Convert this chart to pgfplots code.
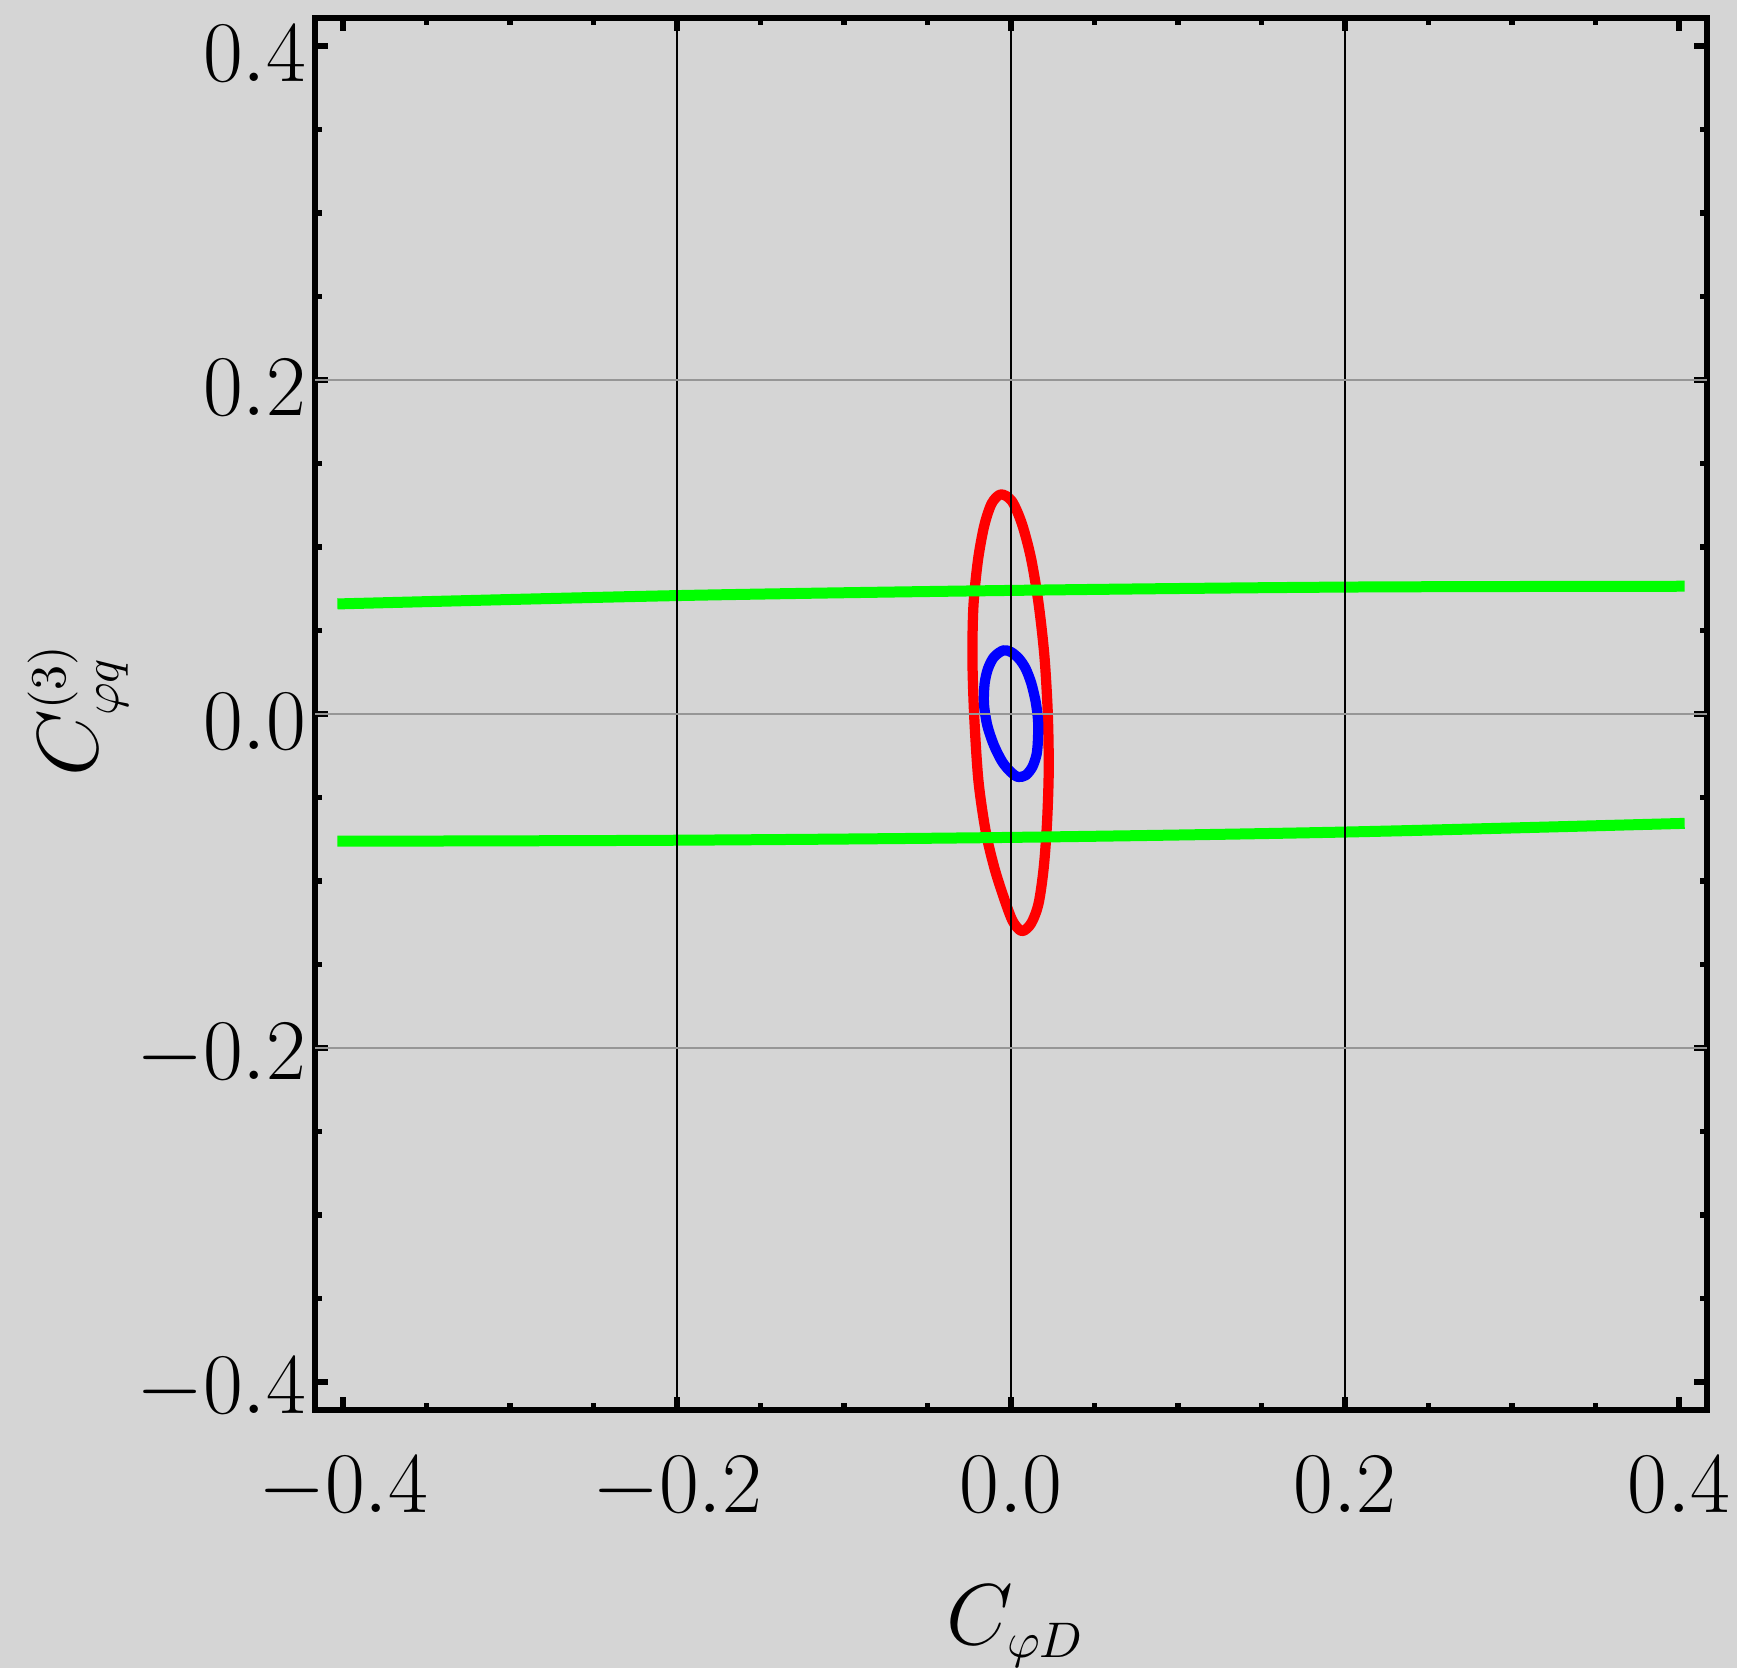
\documentclass[border=0pt]{standalone}
\usepackage{pgfplots}
\pgfplotsset{compat=1.18}
\DeclareMathSizes{17.1}{17.1}{10.3}{8}
\definecolor{bgc}{RGB}{213,213,213}
\definecolor{gridgray}{RGB}{150,150,150}
\begin{document}
\begin{tikzpicture}
\fill[bgc] (0,0) rectangle (347.4pt,333.6pt);
\path[use as bounding box] (0,0) rectangle (347.4pt,333.6pt);
\begin{axis}[
  at={(63pt,51.6pt)}, anchor=south west,
  width=278.4pt, height=278.4pt, scale only axis,
  xmin=-0.4168, xmax=0.4168, ymin=-0.4168, ymax=0.4168,
  axis on top,
  axis line style={line width=1.2pt, black},
  tick style={line width=1.1pt, black},
  major tick length=2.6pt, minor tick length=1.4pt,
  xtick={-0.4,-0.2,0,0.2,0.4},
  xticklabels={$-0.4$,$-0.2$,$0.0$,$0.2$,$0.4$},
  ytick={-0.4,-0.2,0,0.2,0.4},
  yticklabels={$-0.4$,$-0.2$,$0.0$,$0.2$,$0.4$},
  minor x tick num=3, minor y tick num=3,
  ticklabel style={font=\fontsize{17.1}{20}\selectfont, inner sep=2pt},
  xticklabel style={yshift=-7.2pt},
  yticklabel style={xshift=0.4pt, yshift=-1.5pt},
  extra x ticks={-0.2,0,0.2}, extra x tick labels={,,},
  extra x tick style={grid=major, major grid style={black, line width=0.25pt}, major tick length=0pt},
  extra y ticks={-0.2,0,0.2}, extra y tick labels={,,},
  extra y tick style={grid=major, major grid style={gridgray, line width=0.45pt}, major tick length=0pt},
  label style={font=\fontsize{17.1}{20}\selectfont},
  xlabel={$C_{\varphi D}$},
  xlabel style={at={(axis description cs:0.5036,-0.1688)}, anchor=base},
  ylabel={$C^{(3)}_{\varphi q}$},
  ylabel style={at={(axis description cs:-0.1566,0.503)}, anchor=base, rotate=0},
]
% red contour
\addplot[red, line width=2.05pt, smooth cycle, line join=round] coordinates {
 (-0.0060,0.1315) (0.0005,0.1275) (0.0065,0.1140) (0.0120,0.0932) (0.0165,0.0662)
 (0.0200,0.0348) (0.0220,0.0009) (0.0226,-0.0330) (0.0216,-0.0646) (0.0196,-0.0920)
 (0.0165,-0.1135) (0.0120,-0.1255) (0.0065,-0.1300) (0.0010,-0.1240) (-0.0045,-0.1094)
 (-0.0100,-0.0920) (-0.0152,-0.0700) (-0.0195,-0.0400) (-0.0220,-0.0020) (-0.0231,0.0330)
 (-0.0225,0.0646) (-0.0198,0.0920) (-0.0160,0.1129) (-0.0115,0.1262)};
% green bands
\addplot[color={rgb,255:red,0;green,255;blue,0}, line width=2.2pt, smooth] coordinates {
 (-0.4034,0.0659) (-0.2,0.0709) (0,0.0740) (0.2,0.0760) (0.4034,0.0765)};
\addplot[color={rgb,255:red,0;green,255;blue,0}, line width=2.2pt, smooth] coordinates {
 (-0.4034,-0.0762) (-0.2,-0.0756) (0,-0.0739) (0.2,-0.0707) (0.4034,-0.0655)};
% blue contour
\addplot[blue, line width=2.05pt, smooth cycle, line join=round] coordinates {
 (-0.0046,0.0381) (0,0.0371) (0.0048,0.0331) (0.0088,0.0271) (0.0122,0.0182)
 (0.0148,0.0072) (0.0162,-0.0038) (0.0162,-0.0138) (0.0154,-0.0238) (0.0128,-0.0317)
 (0.0088,-0.0367) (0.0042,-0.0377) (-0.0002,-0.0347) (-0.0052,-0.0287) (-0.0102,-0.0188)
 (-0.0142,-0.0068) (-0.0162,0.0062) (-0.0158,0.0182) (-0.0138,0.0271) (-0.0102,0.0341)};
\end{axis}
\end{tikzpicture}
\end{document}
